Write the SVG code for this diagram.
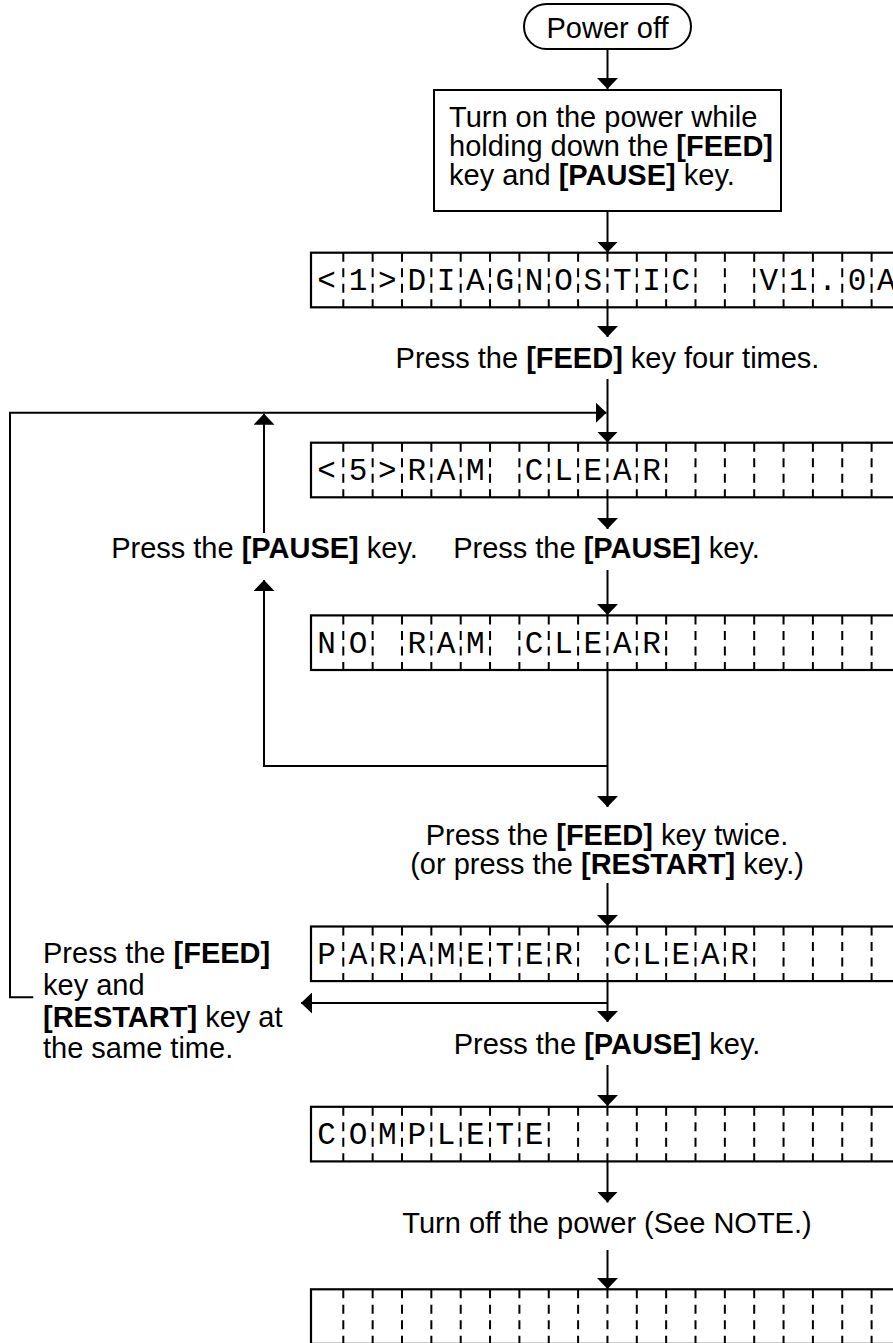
<svg xmlns="http://www.w3.org/2000/svg" xmlns:xlink="http://www.w3.org/1999/xlink" width="893" height="1343" viewBox="0 0 893 1343">
<style>
.ln{stroke:#000;stroke-width:2;fill:none}
.ar{marker-end:url(#ah)}
.t{font-family:"Liberation Sans",Arial,sans-serif;font-size:29px;fill:#000}
.c{text-anchor:middle}
.b{font-weight:bold}
.lcd{font-family:"Liberation Mono","DejaVu Sans Mono",monospace;font-size:31px;fill:#000;text-anchor:middle}
.frame{fill:#fff;stroke:#000;stroke-width:2.2}
.sep{stroke:#000;stroke-width:2;stroke-dasharray:9 6.5}
.node{fill:#fff;stroke:#000;stroke-width:2}
</style>
<defs>
<marker id="ah" viewBox="0 0 11 21" refX="11" refY="10.5" markerWidth="11" markerHeight="21" markerUnits="userSpaceOnUse" orient="auto">
<path d="M0,0 L11,10.5 L0,21 Z" fill="#000"/>
</marker>
<g id="lcdframe">
<rect class="frame" x="311" y="0" width="600" height="54.6"/>
<path class="sep" d="M343.3,0v54.6M372.65,0v54.6M402,0v54.6M431.35,0v54.6M460.7,0v54.6M490.05,0v54.6M519.4,0v54.6M548.75,0v54.6M578.1,0v54.6M607.45,0v54.6M636.8,0v54.6M666.15,0v54.6M695.5,0v54.6M724.85,0v54.6M754.2,0v54.6M783.55,0v54.6M812.9,0v54.6M842.25,0v54.6M871.6,0v54.6"/>
</g>
</defs>
<rect width="893" height="1343" fill="#fff"/>

<g id="connectors">
<path class="ln ar" d="M607.5,49V89"/>
<path class="ln ar" d="M607.5,211V252.5"/>
<path class="ln ar" d="M607.5,307.3V337"/>
<path class="ln ar" d="M607.5,379V442.5"/>
<path class="ln ar" d="M33.3,997.3H10V412.7H606.5"/>
<path class="ln ar" d="M264,533V413.7"/>
<path class="ln ar" d="M607.5,497.3V529"/>
<path class="ln ar" d="M607.5,570V615"/>
<path class="ln ar" d="M607.5,670V807"/>
<path class="ln ar" d="M607.5,766H264V580"/>
<path class="ln ar" d="M607.5,883V926"/>
<path class="ln ar" d="M607.5,981V1022"/>
<path class="ln ar" d="M607.5,1003H301"/>
<path class="ln ar" d="M607.5,1065V1106"/>
<path class="ln ar" d="M607.5,1161.5V1202.5"/>
<path class="ln ar" d="M607.5,1250V1289"/>
</g>

<g id="labels">
<text class="t c" x="607.5" y="368">Press the <tspan class="b">[FEED]</tspan> key four times.</text>
<text class="t c" x="264.5" y="558">Press the <tspan class="b">[PAUSE]</tspan> key.</text>
<text class="t c" x="606.5" y="558">Press the <tspan class="b">[PAUSE]</tspan> key.</text>
<text class="t c" x="607" y="845">Press the <tspan class="b">[FEED]</tspan> key twice.</text>
<text class="t c" x="607" y="874">(or press the <tspan class="b">[RESTART]</tspan> key.)</text>
<text class="t" x="43" y="963">Press the <tspan class="b">[FEED]</tspan></text>
<text class="t" x="43" y="995">key and</text>
<text class="t" x="43" y="1027"><tspan class="b">[RESTART]</tspan> key at</text>
<text class="t" x="43" y="1058">the same time.</text>
<text class="t c" x="607" y="1054">Press the <tspan class="b">[PAUSE]</tspan> key.</text>
<text class="t c" x="607" y="1233">Turn off the power (See NOTE.)</text>
</g>

<g id="power-off">
<rect class="node" x="524" y="4" width="167" height="45" rx="22.5"/>
<text class="t c" x="607.5" y="38">Power off</text>
</g>

<g id="turn-on">
<rect class="node" x="434" y="90" width="347" height="121"/>
<text class="t" x="449" y="127">Turn on the power while</text>
<text class="t" x="449" y="156">holding down the <tspan class="b">[FEED]</tspan></text>
<text class="t" x="449" y="185">key and <tspan class="b">[PAUSE]</tspan> key.</text>
</g>

<g id="lcd-diagnostic">
<use xlink:href="#lcdframe" y="252.7"/>
<text class="lcd" xml:space="preserve" x="326.5 358 387.4 416.7 446.1 475.4 504.8 534.1 563.5 592.8 622.2 651.5 680.9 710.2 739.6 768.9 798.3 827.6 857 886.3" y="290">&lt;1&gt;DIAGNOSTIC  V1.0A</text>
</g>

<g id="lcd-ram-clear">
<use xlink:href="#lcdframe" y="442.7"/>
<text class="lcd" x="326.5 358 387.4 416.7 446.1 475.4 534.1 563.5 592.8 622.2 651.5" y="480">&lt;5&gt;RAMCLEAR</text>
</g>

<g id="lcd-no-ram-clear">
<use xlink:href="#lcdframe" y="615.4"/>
<text class="lcd" x="326.5 358 416.7 446.1 475.4 534.1 563.5 592.8 622.2 651.5" y="652.7">NORAMCLEAR</text>
</g>

<g id="lcd-parameter-clear">
<use xlink:href="#lcdframe" y="926.5"/>
<text class="lcd" x="326.5 358 387.4 416.7 446.1 475.4 504.8 534.1 563.5 622.2 651.5 680.9 710.2 739.6" y="963.8">PARAMETERCLEAR</text>
</g>

<g id="lcd-complete">
<use xlink:href="#lcdframe" y="1106.8"/>
<text class="lcd" x="326.5 358 387.4 416.7 446.1 475.4 504.8 534.1" y="1144.1">COMPLETE</text>
</g>

<g id="lcd-blank">
<use xlink:href="#lcdframe" y="1289.3"/>
</g>
</svg>
